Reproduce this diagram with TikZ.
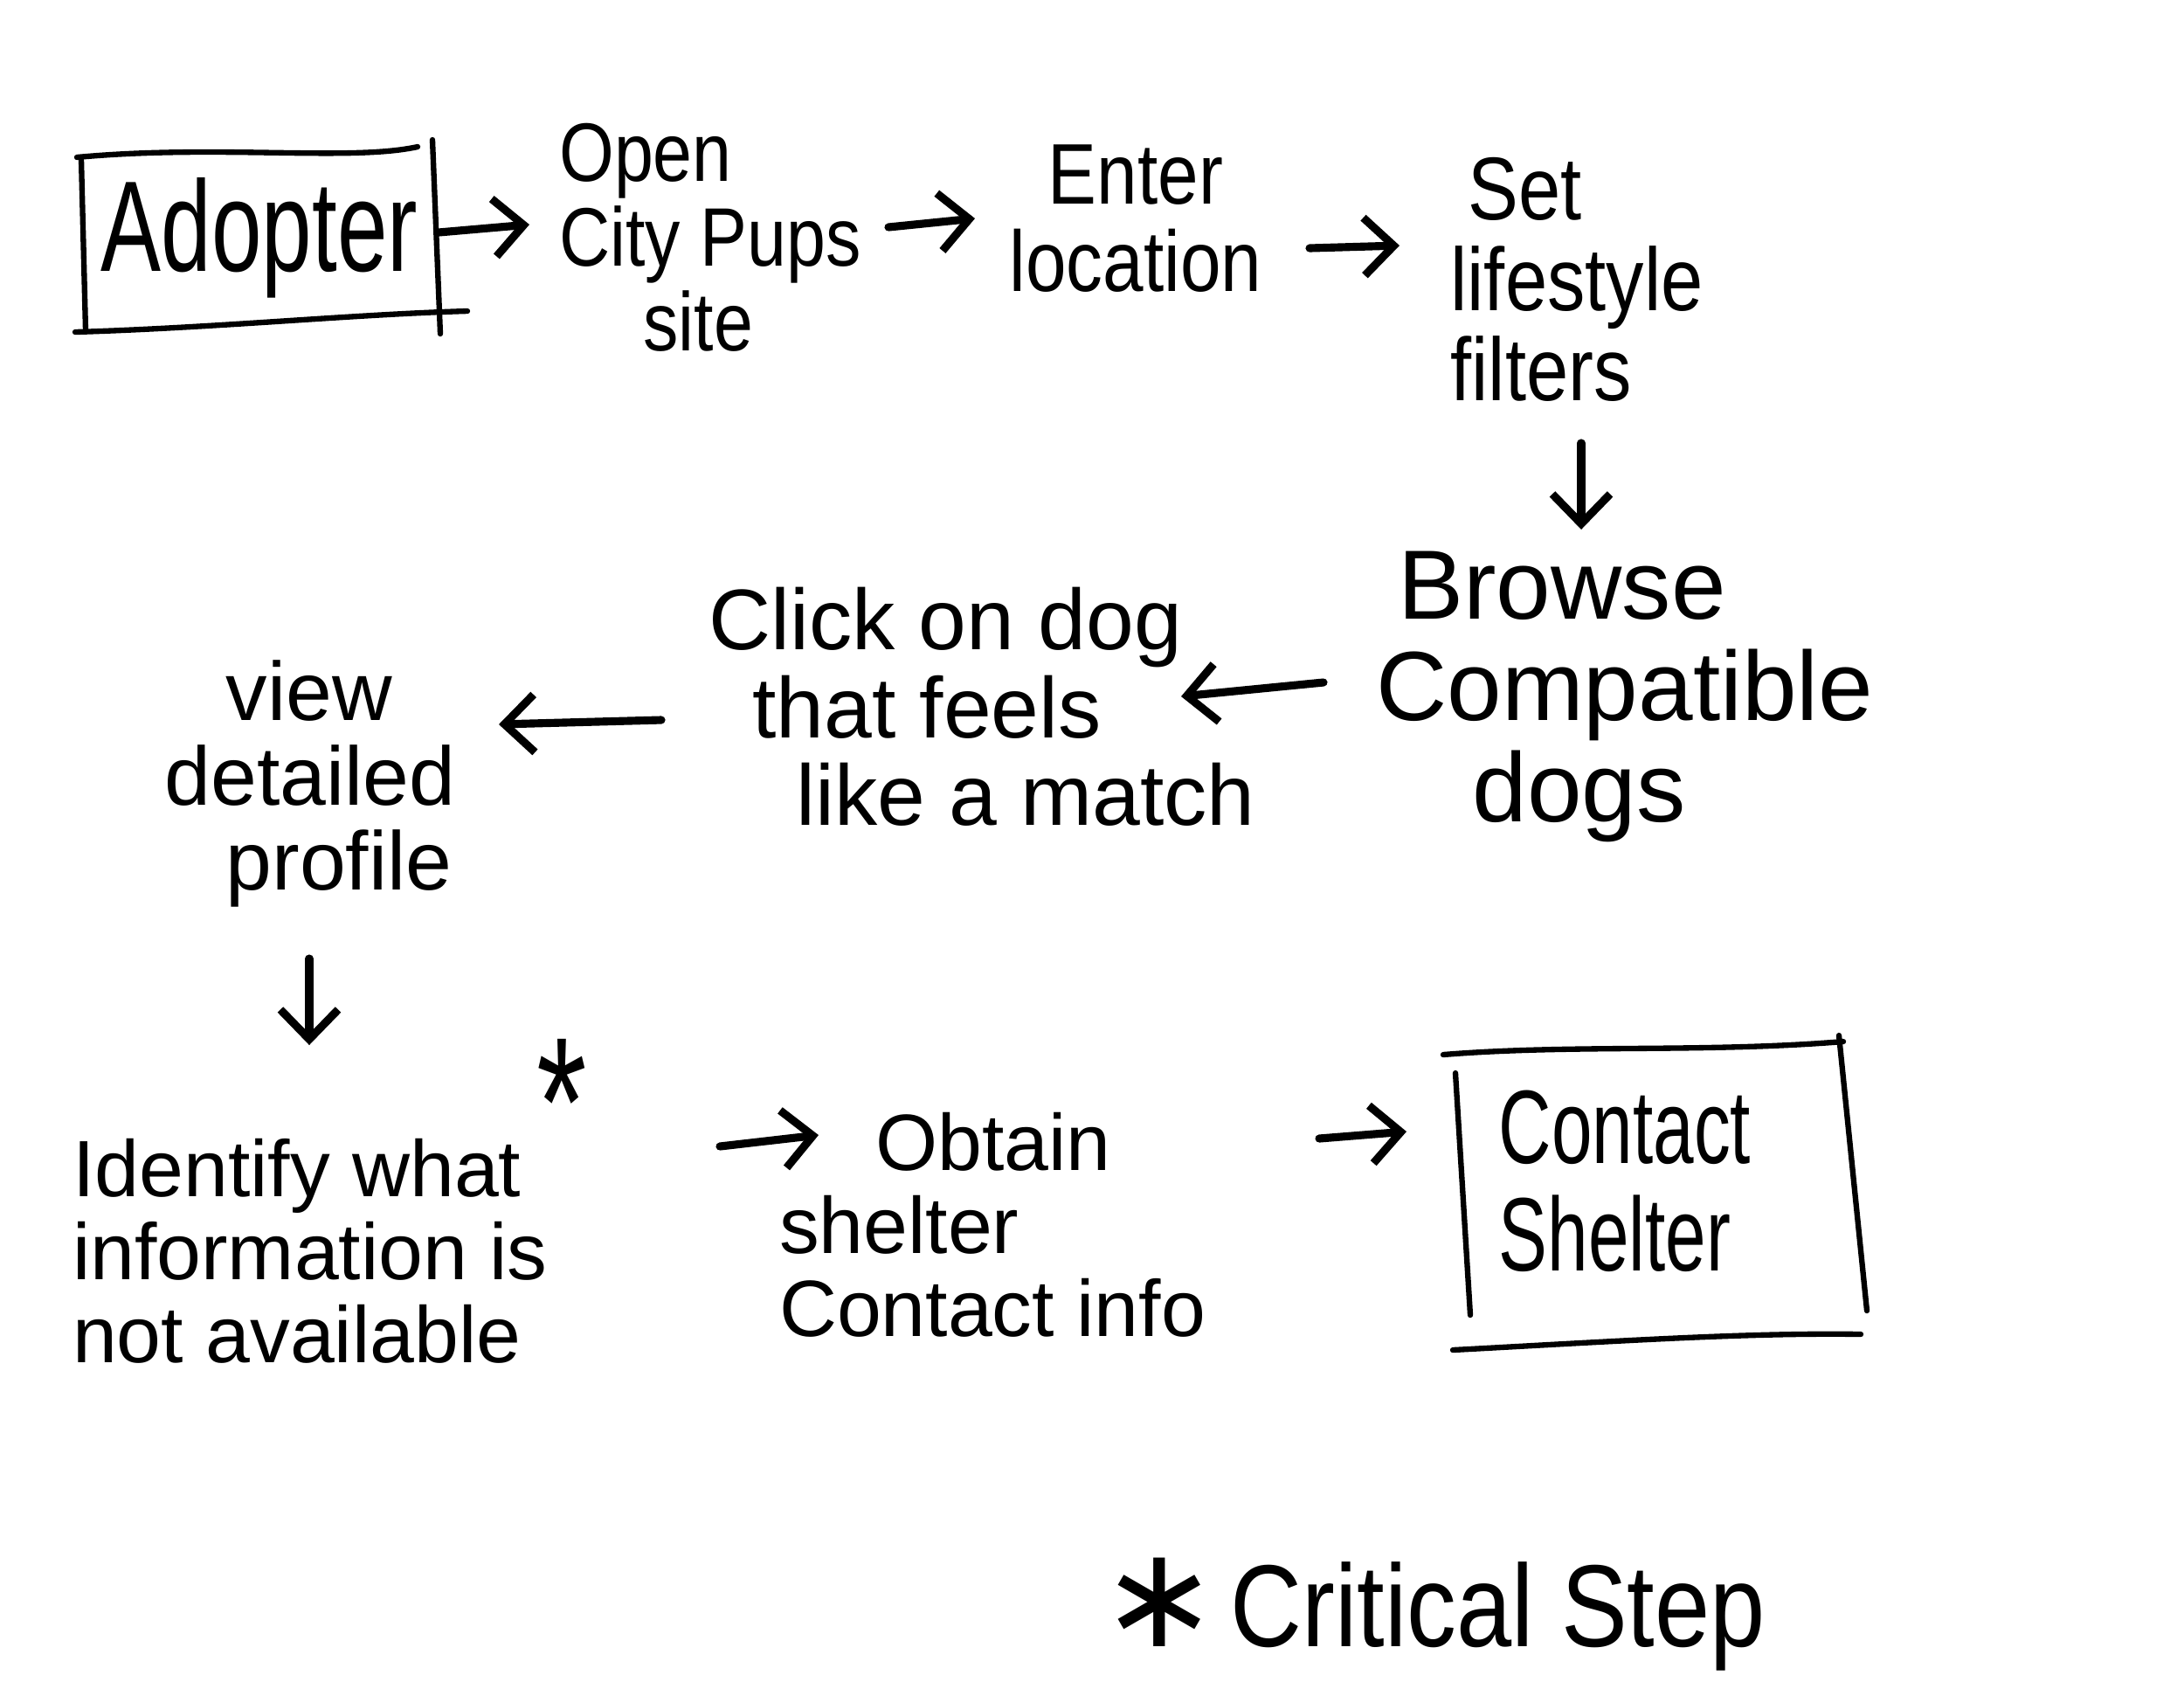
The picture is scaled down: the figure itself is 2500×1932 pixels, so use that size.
\documentclass[tikz,border=0pt]{standalone}
\usepackage{fontspec}
\setmainfont{Liberation Sans}[FakeStretch=0.85]
\newfontfamily\narrowf{Liberation Sans}[FakeStretch=0.7]
\newfontfamily\widef{Liberation Sans}
\newfontfamily\djv{DejaVu Sans}
\usetikzlibrary{arrows.meta}
\newcommand\handfs[2]{\fontsize{#1}{#2}\selectfont}
\begin{document}
\begin{tikzpicture}[x=0.01cm,y=-0.01cm,
  hand/.style={line width=1.8pt,line cap=round,line join=round},
  arr/.style={line width=2.6pt,line cap=round,-{Straight Barb[length=3.4mm,width=6.6mm,line width=2.6pt]}},
  lbl/.style={inner sep=0pt}]
\useasboundingbox[fill=white] (0,0) rectangle (2500,1932);

% Adopter box
\node[minimum width=4.14cm,minimum height=2.1cm,inner sep=0pt,font=\narrowf\handfs{42}{44}] (adopter) at (297,272) {Adopter};
\draw[hand] (88,180) .. controls (250,165) and (400,185) .. (478,168);
\draw[hand] (93,182) -- (98,378);
\draw[hand] (495,160) -- (504,382);
\draw[hand] (86,380) .. controls (250,375) and (400,360) .. (535,356);

\node[lbl,align=left,font=\handfs{27}{27.5}] (open) at (813,272) {Open\\City Pups\\\hspace{0.96cm}site};
\node[lbl,align=center,font=\handfs{28}{28.5}] (enter) at (1300,250) {Enter\\location};
\node[lbl,align=left,font=\handfs{29}{29.5}] (setf) at (1805,320) {\hspace{0.2cm}Set\\lifestyle\\filters};
\node[lbl,align=left,font=\widef\handfs{32}{33}] (browse) at (1860,797) {\hspace{0.25cm}Browse\\Compatible\\\hspace{1.1cm}dogs};
\node[lbl,align=left,font=\widef\handfs{28}{28.5}] (click) at (1124,809) {Click on dog\\\hspace{0.5cm}that feels\\\hspace{1cm}like a match};
\node[lbl,align=left,font=\widef\handfs{27}{27.5}] (view) at (355,897) {\hspace{0.7cm}view\\detailed\\\hspace{0.7cm}profile};
\node[lbl,align=left,font=\widef\handfs{26}{27}] (identify) at (355,1432) {Identify what\\information is\\not available};
\node[lbl,font=\narrowf\handfs{60}{60}] (star) at (643,1262) {*};
\node[lbl,align=left,font=\widef\handfs{26}{27}] (obtain) at (1136,1402) {\hspace{1.1cm}Obtain\\shelter\\Contact info};

% Contact Shelter box
\node[minimum width=4.8cm,minimum height=3.4cm,inner sep=0pt] (contact) at (1893,1365) {};
\node[lbl,align=left,font=\narrowf\handfs{34}{35}] (contacttxt) at (1860,1352) {Contact\\Shelter};
\draw[hand] (1652,1207) .. controls (1800,1195) and (1950,1205) .. (2110,1192);
\draw[hand] (2105,1185) -- (2137,1500);
\draw[hand] (1666,1228) -- (1683,1505);
\draw[hand] (1663,1545) .. controls (1850,1535) and (2000,1525) .. (2130,1527);

\node[inner sep=0pt,anchor=base,font=\handfs{38}{40}] (crit) at (1640,1884) {{\djv\handfs{46}{46}∗}\hspace{4pt}Critical Step};

% connectors
\draw[arr] ([shift={(205,-6)}]adopter.center) -- ([shift={(-207,-15)}]open.center);
\draw[arr] ([shift={(204,-12)}]open.center) -- ([shift={(-184,0)}]enter.center);
\draw[arr] ([shift={(199,34)}]enter.center) -- ([shift={(-203,-39)}]setf.center);
\draw[arr] ([shift={(5,187)}]setf.center) -- ([shift={(-50,-191)}]browse.center);
\draw[arr] ([shift={(-345,-16)}]browse.center) -- ([shift={(228,-12)}]click.center);
\draw[arr] ([shift={(-367,15)}]click.center) -- ([shift={(216,-68)}]view.center);
\draw[arr] ([shift={(-1,200)}]view.center) -- ([shift={(-1,-236)}]identify.center);
\draw[arr] ([shift={(469,-120)}]identify.center) -- ([shift={(-199,-103)}]obtain.center);
\draw[arr] ([shift={(374,-99)}]obtain.center) -- ([shift={(-283,-70)}]contact.center);
\end{tikzpicture}
\end{document}
